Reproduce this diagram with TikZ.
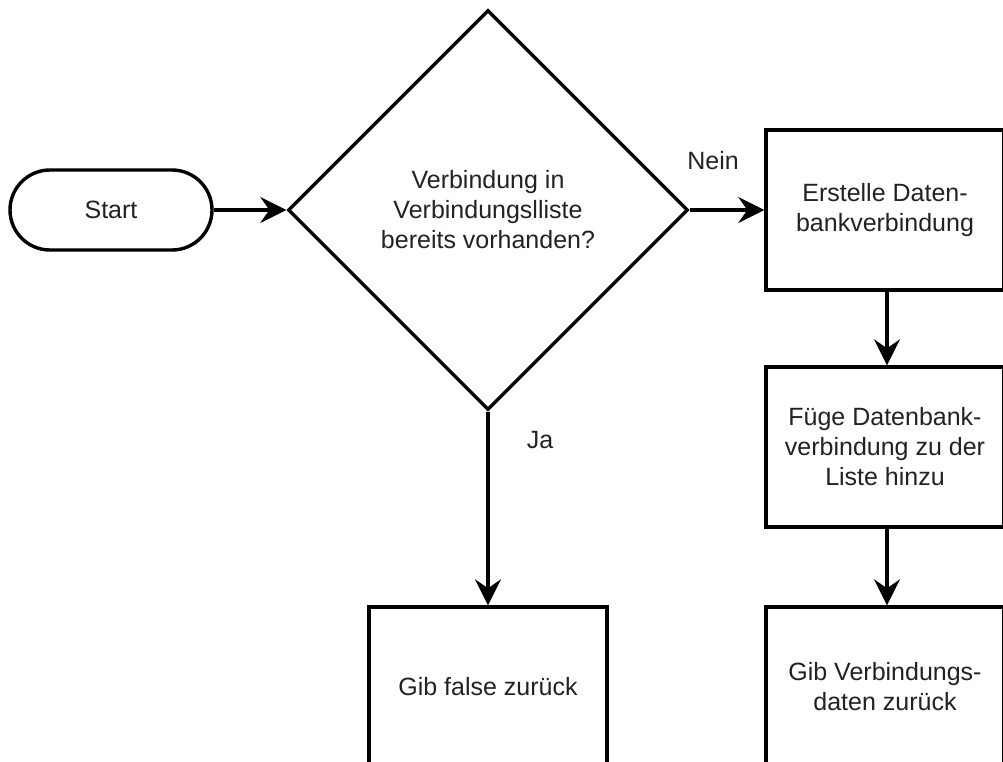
\documentclass[tikz,border=0pt]{standalone}
\usepackage{fontspec}
\setmainfont{Liberation Sans}
\usetikzlibrary{shapes.geometric,arrows.meta}
\definecolor{txt}{HTML}{222222}
\tikzset{
  every node/.style={font=\fontsize{25}{30}\selectfont, text=txt},
  shapeline/.style={draw=black, line width=3.4pt},
  procbox/.style={shapeline, rectangle, minimum width=238pt, minimum height=160pt, inner sep=0pt, align=center},
  termbox/.style={shapeline, rectangle, rounded corners=40pt, minimum width=202pt, minimum height=80pt, inner sep=0pt},
  decbox/.style={shapeline, diamond, minimum width=400pt, minimum height=400pt, inner sep=0pt, align=center},
  flow/.style={line width=3.2pt, -{Stealth[length=26pt, width=26pt, inset=9pt]}},
  lbl/.style={inner sep=0pt}
}
\begin{document}
\begin{tikzpicture}[x=1pt, y=-1pt]
\useasboundingbox (0,0) rectangle (1003,762);
\clip (0,0) rectangle (1003,762);
\fill[white] (0,0) rectangle (1003,762);
\node[termbox] (start) at (111,210) {Start};
\node[decbox] (dec) at (488,210) {Verbindung in\\Verbindungslliste\\bereits vorhanden?};
\node[procbox] (b1) at (885,210) {Erstelle Daten-\\bankverbindung};
\node[procbox] (b2) at (885,447) {Füge Datenbank-\\verbindung zu der\\Liste hinzu};
\node[procbox] (b3) at (885,687) {Gib Verbindungs-\\daten zurück};
\node[procbox] (b4) at (488,687) {Gib false zurück};
\node[lbl] (nein) at (713,161) {Nein};
\node[lbl] (ja) at (540,440) {Ja};
\draw[flow] (start.east) -- (dec.west);
\draw[flow] (dec.east) -- (b1.west);
\draw[flow] (dec.south) -- (b4.north);
\draw[flow] ([xshift=2pt]b1.south) -- ([xshift=2pt]b2.north);
\draw[flow] ([xshift=2pt]b2.south) -- ([xshift=2pt]b3.north);
\end{tikzpicture}
\end{document}
